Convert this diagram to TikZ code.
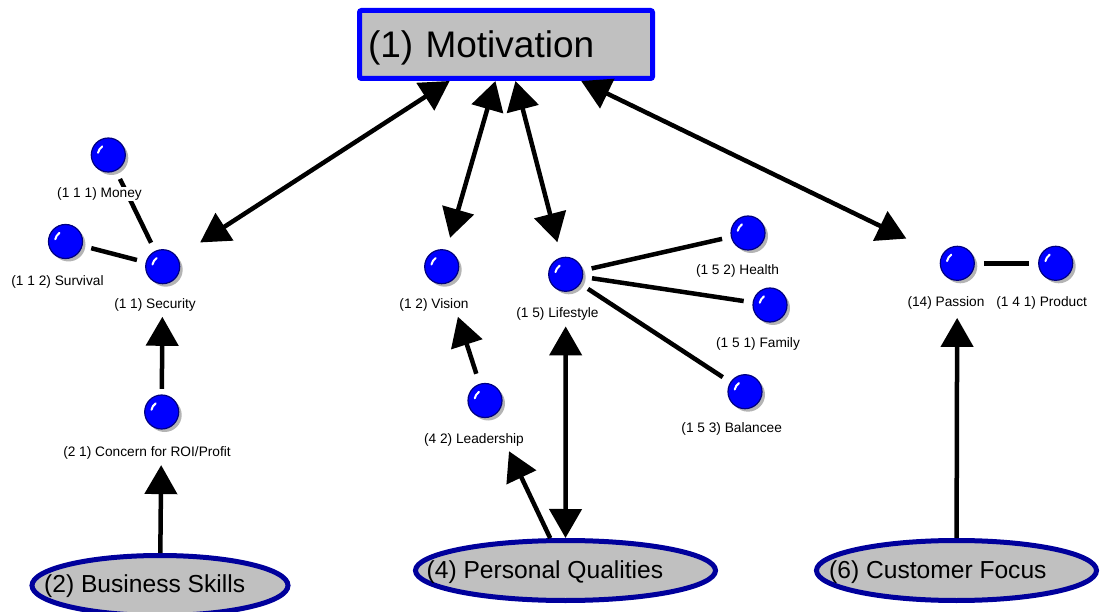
\documentclass[tikz,border=0pt]{standalone}
\usepackage{fontspec}
\setmainfont{Liberation Sans}
\usetikzlibrary{arrows.meta,shapes.geometric,shadows}
\definecolor{boxgray}{HTML}{C0C0C0}
\definecolor{boxblue}{HTML}{0000FF}
\definecolor{ovalblue}{HTML}{00009C}
\definecolor{ballblue}{HTML}{0000FF}
\definecolor{ballrim}{HTML}{000080}
\definecolor{ballshade}{HTML}{B4B4B4}

\begin{document}
\begin{tikzpicture}[x=1pt,y=-1pt,
  motivbox/.style={draw=boxblue, fill=boxgray, line width=5pt, rounded corners=2pt,
    minimum width=293pt, minimum height=68pt, text width=276pt, inner xsep=8.5pt,
    align=left, text depth=0pt, font=\fontsize{37}{40}\selectfont},
  oval/.style={ellipse, draw=ovalblue, fill=boxgray, line width=5pt, inner sep=0pt},
  ovaltext/.style={inner sep=0pt, anchor=west, font=\fontsize{24.6}{28}\selectfont},
  ball/.style={circle, minimum size=34pt, inner sep=0pt, fill=ballblue, draw=ballrim,
    line width=1.2pt,
    drop shadow={shadow xshift=3pt, shadow yshift=-3pt, fill=ballshade, opacity=1},
    path picture={\draw[white, line width=2pt, line cap=round]
      ([shift={(168:10.5pt)}]path picture bounding box.center)
      arc[start angle=168, end angle=125, radius=10.5pt];}},
  tag/.style={fill=white, inner sep=0.6pt, font=\fontsize{13.7}{15}\selectfont},
  link/.style={line width=4.5pt, shorten <=9pt, shorten >=9pt},
  arr/.style={line width=4.5pt, -{Triangle[length=29pt,width=32pt]}},
  biarr/.style={line width=4.5pt,
    {Triangle[length=29pt,width=32pt]}-{Triangle[length=29pt,width=32pt]}},
]
\useasboundingbox (0,0) rectangle (1101,612);

% central box
\node[motivbox] (motiv) at (506,44.5) {(1) Motivation};

% root ovals
\node[oval, minimum width=256pt, minimum height=60pt] (bs) at (160,585.5) {};
\node[oval, minimum width=300pt, minimum height=60pt] (pq) at (565.5,570.5) {};
\node[oval, minimum width=280pt, minimum height=60pt] (cf) at (956.5,570.5) {};
\node[ovaltext] (bsT) at (44,586) {(2) Business Skills};
\node[ovaltext] (pqT) at (426.5,572) {(4) Personal Qualities};
\node[ovaltext] (cfT) at (829,572) {(6) Customer Focus};

% concept balls
\node[ball] (money)  at (108.3,155) {};
\node[ball] (surv)   at (65.5,241.5) {};
\node[ball] (sec)    at (162.7,266.7) {};
\node[ball] (con)    at (161.7,412) {};
\node[ball] (vis)    at (441.7,266.7) {};
\node[ball] (lead)   at (485,400.5) {};
\node[ball] (life)   at (565.7,274.3) {};
\node[ball] (health) at (748,233) {};
\node[ball] (fam)    at (770,305) {};
\node[ball] (bal)    at (745,391.7) {};
\node[ball] (pas)    at (957.3,263.3) {};
\node[ball] (prod)   at (1055.7,263.3) {};

% plain links
\draw[link] (money) -- (sec);
\draw[link] (surv) -- (sec);
\draw[link] (life) -- (health);
\draw[link] (life) -- (fam);
\draw[link] (life) -- (bal);
\draw[link] (pas) -- (prod);

% arrows
\draw[biarr, shorten >=27pt] (motiv) -- (sec);
\draw[biarr, shorten >=12.5pt] (motiv) -- (vis);
\draw[biarr, shorten >=15.5pt] (motiv) -- (life);
\draw[biarr, shorten >=39pt] (motiv) -- (pas);
\draw[arr, shorten >=35.5pt] (bs) -- (con);
\draw[arr, shorten <=5.5pt, shorten >=32.5pt] (con) -- (sec);
\draw[arr, shorten >=38.5pt] (pq) -- (lead);
\draw[biarr, shorten <=34.5pt] (life) -- (pq);
\draw[arr, shorten >=37pt] (cf) -- (pas);
\draw[arr, shorten <=10.5pt, shorten >=35pt] (lead) -- (vis);

% labels
\node[tag] (moneyL)  at (99.5,194)   {(1 1 1) Money};
\node[tag] (survL)   at (57.5,282)   {(1 1 2) Survival};
\node[tag] (secL)    at (155,305)    {(1 1) Security};
\node[tag] (conL)    at (147,452.7)  {(2 1) Concern for ROI/Profit};
\node[tag] (visL)    at (434,305)    {(1 2) Vision};
\node[tag] (leadL)   at (474,440)    {(4 2) Leadership};
\node[tag] (lifeL)   at (557.5,314)  {(1 5) Lifestyle};
\node[tag] (healthL) at (737.5,270.7) {(1 5 2) Health};
\node[tag] (famL)    at (758,344)    {(1 5 1) Family};
\node[tag] (balL)    at (731.7,429)  {(1 5 3) Balancee};
\node[tag] (pasL)    at (946,302.7)  {(14) Passion};
\node[tag] (prodL)   at (1041.7,302.7) {(1 4 1) Product};
\end{tikzpicture}
\end{document}
